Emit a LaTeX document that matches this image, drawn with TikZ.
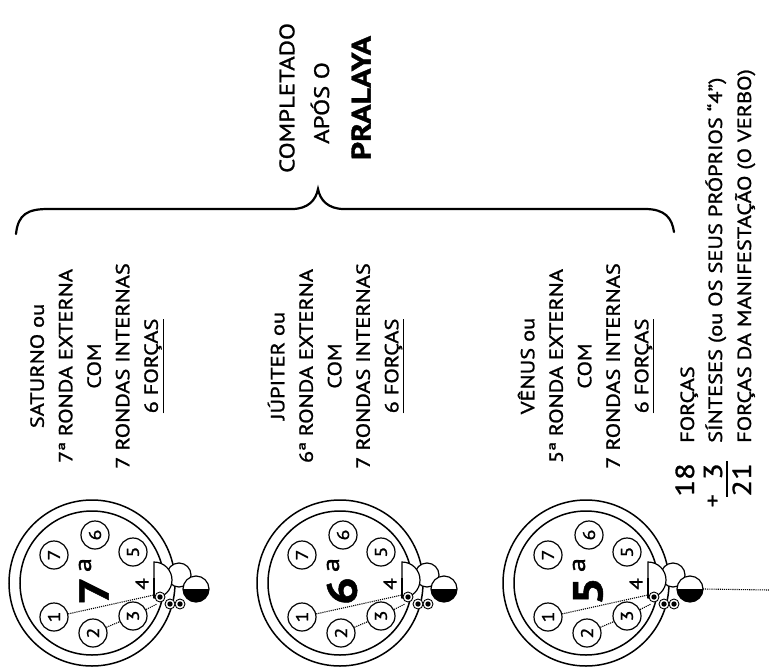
\documentclass[tikz,border=0pt]{standalone}
\usepackage{fontspec}
\setmainfont{PT Sans}[FakeStretch=1.18, FakeBold=1.2]
\newcommand{\drawplanet}[3]{%
 \begin{scope}[shift={(#2,583)}]
  \draw[ring] (0,0) circle[radius=83];
  \draw[ring] (0,0) circle[radius=72];
  \node[smallc] (#1-1) at (-38,34) {1};
  \node[smallc] (#1-2) at (1,50) {2};
  \node[smallc] (#1-3) at (41,33) {3};
  \node[smallc] (#1-5) at (41,-31) {5};
  \node[smallc] (#1-6) at (3,-48) {6};
  \node[smallc] (#1-7) at (-38,-28) {7};
  \node[rotate=90, font=\fontsize{18}{18}\selectfont, inner sep=0pt] (#1-4) at (50,1) {4};
  \node[rotate=90, font=\fontsize{42}{42}\selectfont\bfseries, inner sep=0pt] (#1-big) at (2,8) {#3};
  \node[rotate=90, font=\fontsize{24}{24}\selectfont, inner sep=0pt] (#1-sup) at (-7,-18) {a};
  \coordinate (#1-k1) at (62,12);
  \coordinate (#1-k2) at (65,21);
  \draw[dots] (#1-1) -- (#1-k1);
  \draw[dots] (#1-2) -- (#1-3);
  \draw[dots] (#1-3) -- (#1-k2);
  % knob
  \draw[knob] (87,-8) circle[radius=12];
  \draw[knob] (62,-21) arc[start angle=-90, end angle=90, radius=18] -- cycle;
  \draw[line width=2.8pt] (62,-5) -- (62,15);
  \foreach \p in {(68,14),(78,21),(88,21)}{
    \draw[knob, line width=0.9pt] \p circle[radius=5];
    \fill \p circle[radius=2.7];
  }
  \draw[knob] (104,6) circle[radius=13];
  \fill (117,6) arc[start angle=0, end angle=180, radius=13] -- cycle;
  \coordinate (#1-bc) at (117,6);
 \end{scope}}
\begin{document}
\begin{tikzpicture}[x=1pt,y=-1pt,
  body/.style={rotate=90, align=center, font=\fontsize{19}{28.5}\selectfont, inner sep=0pt},
  ring/.style={line width=1.5pt},
  smallc/.style={circle, draw, line width=1.2pt, minimum size=28pt, inner sep=0pt, font=\fontsize{17}{17}\selectfont, rotate=90},
  dots/.style={densely dotted, line width=1.1pt},
  knob/.style={draw, fill=white, line width=1.2pt},
  brace/.style={line width=2.2pt, line cap=round}]
\useasboundingbox (0,0) rectangle (769,667);
% brace
\draw[brace] (16,234) .. controls (18,214) and (28,209) .. (48,209) -- (292,209)
  .. controls (308,209) and (316,200) .. (318,189)
  .. controls (320,200) and (328,209) .. (344,209) -- (645,209)
  .. controls (665,209) and (672,218) .. (674,232);
\node[rotate=90, font=\fontsize{21}{21}\selectfont, inner sep=0pt] (compl) at (287,98) {COMPLETADO};
\node[rotate=90, font=\fontsize{21}{21}\selectfont, inner sep=0pt] (apos) at (320,103) {APÓS O};
\node[rotate=90, font=\fontsize{27}{27}\selectfont\bfseries, inner sep=0pt] (pral) at (361,98) {PRALAYA};
% text blocks
\node[body] (sat-txt) at (97,366) {SATURNO ou\\7ª RONDA EXTERNA\\COM\\7 RONDAS INTERNAS\\\underline{6 FORÇAS}};
\node[body] (jup-txt) at (336,366) {JÚPITER ou\\6ª RONDA EXTERNA\\COM\\7 RONDAS INTERNAS\\\underline{6 FORÇAS}};
\node[body] (ven-txt) at (586,366) {VÊNUS ou\\5ª RONDA EXTERNA\\COM\\7 RONDAS INTERNAS\\\underline{6 FORÇAS}};
% planets
\drawplanet{sat}{92}{7}
\drawplanet{jup}{340}{6}
\drawplanet{ven}{586}{5}
\coordinate (vend) at (769,590);
\draw[dots] (ven-bc) -- (vend);
% sums
\node[rotate=90, anchor=base east, font=\fontsize{26}{26}\selectfont, inner sep=0pt] (n18) at (694,463) {18};
\node[rotate=90, anchor=base west, font=\fontsize{19}{19}\selectfont, inner sep=0pt] (t18) at (694,443) {FORÇAS};
\node[rotate=90, anchor=base east, font=\fontsize{26}{26}\selectfont, inner sep=0pt] (n3) at (722,463) {3};
\node[rotate=90, anchor=base east, font=\fontsize{22}{22}\selectfont, inner sep=0pt] (nplus) at (720,494) {+};
\node[rotate=90, anchor=base west, font=\fontsize{19}{19}\selectfont, inner sep=0pt] (t3) at (722,443) {SÍNTESES (ou OS SEUS PRÓPRIOS “4”)};
\coordinate (bar1) at (727,461);
\coordinate (bar2) at (727,497);
\draw[line width=1.5pt] (bar1) -- (bar2);
\node[rotate=90, anchor=base east, font=\fontsize{26}{26}\selectfont, inner sep=0pt] (n21) at (751,463) {21};
\node[rotate=90, anchor=base west, font=\fontsize{19}{19}\selectfont, inner sep=0pt] (t21) at (751,443) {FORÇAS DA MANIFESTAÇÃO (O VERBO)};
\end{tikzpicture}
\end{document}
